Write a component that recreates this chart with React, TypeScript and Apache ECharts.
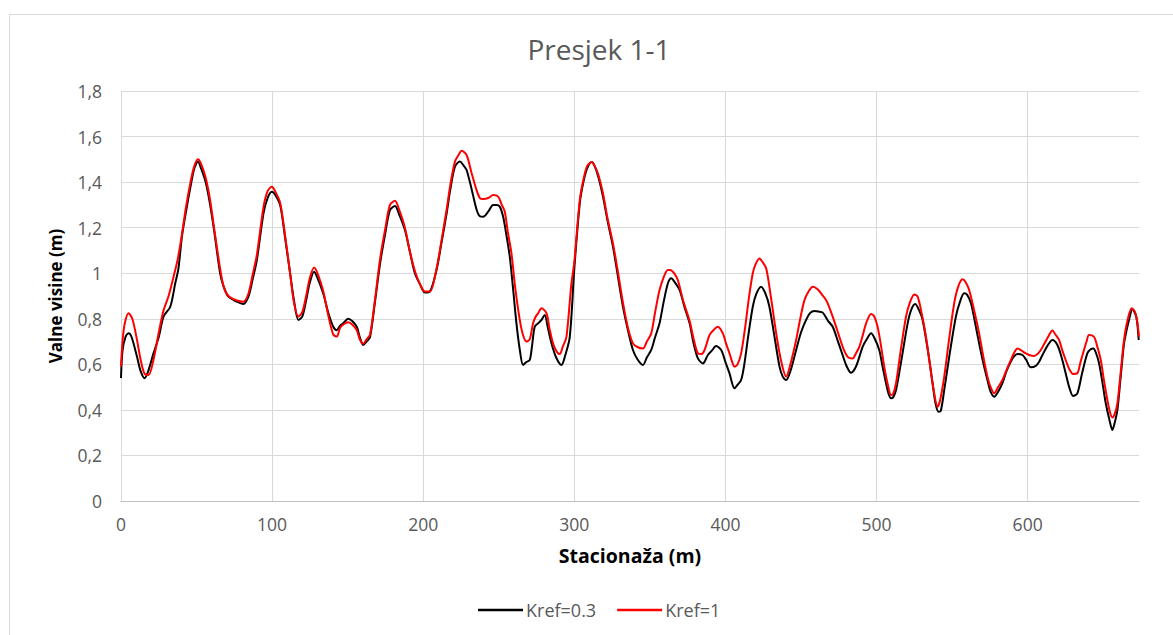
import React, { useEffect, useRef } from "react";
import * as echarts from "echarts";

const chartTitle = "Presjek 1-1";
const xAxisName = "Stacionaža (m)";
const yAxisName = "Valne visine (m)";
const seriesNames = ["Kref=0.3", "Kref=1"];

const stationBlack = [
  0, 1, 3, 5, 7, 10.6, 13, 15.6, 18, 21.5, 25, 28.2, 32.6, 35.9, 38, 40.3, 43, 46, 48.5, 50.9,
  53, 56, 59, 62, 65.6, 68, 71.1, 76.7, 81, 84.3, 87, 89.9, 94.3, 97, 99.8, 102, 105.3, 108.5,
  111.9, 114.5, 117.4, 120, 122.5, 125, 127.8, 130, 133.9, 137, 140.5, 142.8, 145, 147.1, 150.4,
  153, 156, 158, 160.3, 162.5, 164.8, 168, 171.4, 175, 178, 181.3, 184, 187.9, 191, 194.5, 198,
  201.1, 204.4, 208.8, 212, 215.5, 218, 221, 224.3, 226.5, 228.7, 232, 235.3, 237.5, 239.7, 243,
  246.3, 248.5, 250.7, 252.9, 255, 257.3, 259.5, 261.7, 264, 266.1, 268.3, 270.5, 272, 273.8,
  276, 278.3, 280.4, 282.5, 284.9, 288, 291.5, 294, 297, 300, 303.6, 306, 308.5, 311.5, 313.5,
  316, 319, 322, 325.6, 329, 332.2, 335.5, 338.8, 342, 345.4, 348, 350.9, 353.5, 356.4, 359,
  361.9, 364.2, 366.5, 369.7, 373, 376.3, 379, 381.8, 385.1, 388.4, 391, 393.9, 397.2, 400,
  402.7, 406, 408, 410.4, 412.5, 415, 418.1, 420.5, 423.6, 426.5, 429.1, 432.5, 435.8, 438,
  440.2, 443, 446.8, 450, 453.4, 456, 458.9, 461.5, 464.4, 468, 471, 474.5, 477.6, 480, 483.1,
  486.4, 490.8, 493.5, 496.4, 499, 501.8, 504, 506.3, 508, 509.6, 511, 512.9, 516.5, 520.6, 523,
  525.6, 528, 530.5, 534, 537.1, 539, 541, 542.5, 544.8, 548.5, 552.5, 555, 558, 560, 562.5, 565,
  567.9, 570.5, 573.4, 575.5, 577.9, 580.5, 583.3, 586, 588.9, 591, 593.3, 596.6, 599, 602.1,
  605.4, 607.5, 609.8, 613, 616.4, 619.7, 622.5, 625.2, 627.5, 630.1, 632.9, 636, 639.5, 641.5,
  643.5, 645.5, 647.3, 649.5, 651.7, 654, 656.1, 657.5, 659.4, 661.5, 663.8, 665.5, 667.1, 669.3,
  671.9, 673.5,
];
const heightBlack = [
  0.54, 0.66, 0.72, 0.736, 0.72, 0.633, 0.57, 0.539, 0.57, 0.648, 0.72, 0.81, 0.853, 0.956, 1.02,
  1.16, 1.27, 1.38, 1.46, 1.49, 1.46, 1.4, 1.3, 1.17, 1.0, 0.94, 0.897, 0.875, 0.865, 0.897, 0.97,
  1.058, 1.263, 1.33, 1.358, 1.345, 1.3, 1.16, 1.0, 0.88, 0.795, 0.81, 0.88, 0.96, 1.007, 0.98,
  0.91, 0.83, 0.765, 0.75, 0.77, 0.78, 0.8, 0.79, 0.765, 0.72, 0.685, 0.7, 0.72, 0.87, 1.04, 1.18,
  1.277, 1.295, 1.26, 1.19, 1.1, 1.0, 0.95, 0.915, 0.919, 1.014, 1.13, 1.263, 1.37, 1.468, 1.49,
  1.475, 1.453, 1.37, 1.28, 1.25, 1.248, 1.27, 1.3, 1.3, 1.292, 1.248, 1.17, 1.072, 0.93, 0.78,
  0.66, 0.597, 0.61, 0.619, 0.68, 0.765, 0.78, 0.795, 0.817, 0.76, 0.692, 0.63, 0.597, 0.64,
  0.721, 1.02, 1.307, 1.4, 1.46, 1.488, 1.47, 1.42, 1.336, 1.23, 1.116, 0.98, 0.853, 0.75, 0.663,
  0.62, 0.597, 0.63, 0.663, 0.72, 0.78, 0.87, 0.955, 0.978, 0.96, 0.926, 0.85, 0.78, 0.69, 0.626,
  0.604, 0.641, 0.66, 0.68, 0.663, 0.61, 0.56, 0.495, 0.51, 0.531, 0.6, 0.72, 0.853, 0.91, 0.941,
  0.91, 0.853, 0.72, 0.59, 0.545, 0.531, 0.57, 0.663, 0.74, 0.795, 0.825, 0.834, 0.832, 0.827,
  0.79, 0.765, 0.7, 0.64, 0.595, 0.563, 0.59, 0.677, 0.71, 0.736, 0.71, 0.663, 0.59, 0.517, 0.47,
  0.451, 0.455, 0.487, 0.62, 0.78, 0.84, 0.865, 0.84, 0.795, 0.66, 0.517, 0.43, 0.392, 0.395,
  0.487, 0.65, 0.809, 0.87, 0.912, 0.905, 0.868, 0.79, 0.692, 0.61, 0.531, 0.48, 0.458, 0.48,
  0.517, 0.57, 0.612, 0.635, 0.645, 0.641, 0.62, 0.587, 0.593, 0.61, 0.641, 0.68, 0.707, 0.685,
  0.63, 0.56, 0.5, 0.461, 0.473, 0.56, 0.648, 0.665, 0.67, 0.645, 0.604, 0.52, 0.429, 0.36, 0.312,
  0.34, 0.4, 0.54, 0.692, 0.75, 0.795, 0.842, 0.809, 0.707,
];

const stationRed = [
  0, 1, 2.5, 5, 7.5, 10.6, 13, 15.5, 18.2, 21.5, 25, 28.2, 31.5, 34.8, 37.5, 40.3, 43, 46, 48.5,
  50.9, 53, 56, 59, 62, 65.6, 68, 71.1, 76.7, 81, 84.3, 87, 89.9, 94.3, 97, 99.8, 102, 105.3,
  108.5, 111.9, 114.5, 117.4, 120, 122.5, 125, 127.8, 130, 133.9, 137, 140.5, 142.8, 145, 147.1,
  150.4, 153, 156, 158, 160.3, 162.5, 164.8, 168, 171.4, 175, 178, 181.3, 184, 187.9, 191, 194.5,
  198, 201.1, 204.4, 208.8, 212, 215.5, 218, 221, 223.5, 225.4, 228.7, 232, 235.3, 237.5, 239.7,
  243, 246.3, 249.6, 252, 254, 256, 258.4, 261, 263.9, 266, 268.3, 270.5, 272.7, 274.5, 276,
  278.3, 281.6, 283.5, 285.9, 288, 290.3, 292.5, 294.8, 298, 300, 303.6, 306, 308.5, 311.5, 313.5,
  316, 319, 322, 325.6, 329, 332.2, 335.5, 338.8, 342, 345.4, 348, 350.9, 353.5, 356.4, 359,
  361.9, 363.5, 366, 368.5, 372, 376.3, 379, 381.8, 384, 386.2, 389.5, 392, 395, 398.3, 400.5,
  402.7, 404.5, 406, 408, 410.4, 413, 415.5, 418.1, 420, 422.5, 424.5, 427, 430, 433.6, 437,
  440.2, 443, 446.8, 449.5, 452.3, 455, 457.8, 461, 464, 466.6, 469, 472, 475.4, 478, 480.9,
  484.2, 486.5, 488.6, 491, 493.1, 496.4, 498.5, 500.7, 503, 505.1, 507.5, 509.6, 511, 512.9, 516,
  519.5, 522, 525, 527.2, 530, 532.5, 534.9, 537.5, 540.4, 542, 544.8, 548, 551.4, 554, 556.9,
  559, 561.3, 564.5, 567.9, 570.5, 573.4, 575.5, 577.9, 580.5, 583.3, 586, 588.9, 591, 593.3, 596,
  598.8, 601.5, 604.3, 606.5, 608.7, 611, 613.5, 616.4, 618.5, 620.8, 623, 625.2, 627.5, 630.1,
  632.9, 635, 637.3, 639, 640.6, 643.9, 646, 648.4, 650.5, 652.8, 654.5, 656.1, 657.5, 659.4,
  661.5, 663.8, 666, 668.9, 671, 672.5, 673.7,
];
const heightRed = [
  0.59, 0.7, 0.78, 0.824, 0.8, 0.707, 0.62, 0.56, 0.553, 0.62, 0.74, 0.838, 0.9, 0.985, 1.06,
  1.17, 1.29, 1.4, 1.47, 1.5, 1.48, 1.42, 1.32, 1.18, 1.02, 0.94, 0.9, 0.88, 0.875, 0.91, 0.99,
  1.08, 1.29, 1.36, 1.38, 1.36, 1.31, 1.17, 1.0, 0.87, 0.81, 0.83, 0.9, 0.98, 1.025, 1.0, 0.92,
  0.82, 0.73, 0.722, 0.76, 0.775, 0.785, 0.775, 0.75, 0.71, 0.69, 0.71, 0.73, 0.88, 1.06, 1.2,
  1.3, 1.318, 1.28, 1.2, 1.1, 1.01, 0.95, 0.92, 0.92, 1.02, 1.14, 1.28, 1.39, 1.49, 1.52, 1.538,
  1.519, 1.44, 1.365, 1.33, 1.326, 1.33, 1.343, 1.336, 1.3, 1.27, 1.18, 1.087, 0.93, 0.795, 0.73,
  0.7, 0.71, 0.78, 0.81, 0.824, 0.846, 0.824, 0.76, 0.692, 0.66, 0.645, 0.68, 0.721, 0.95, 1.05,
  1.32, 1.41, 1.47, 1.488, 1.47, 1.43, 1.35, 1.24, 1.13, 1.0, 0.87, 0.76, 0.692, 0.675, 0.67, 0.7,
  0.736, 0.83, 0.926, 0.98, 1.014, 1.014, 1.0, 0.97, 0.88, 0.79, 0.71, 0.648, 0.645, 0.663, 0.729,
  0.75, 0.765, 0.736, 0.69, 0.648, 0.61, 0.59, 0.6, 0.648, 0.76, 0.89, 1.0, 1.04, 1.065, 1.05,
  1.021, 0.9, 0.736, 0.61, 0.546, 0.6, 0.707, 0.8, 0.882, 0.92, 0.941, 0.93, 0.905, 0.882, 0.846,
  0.79, 0.721, 0.67, 0.633, 0.626, 0.65, 0.677, 0.73, 0.78, 0.821, 0.81, 0.765, 0.68, 0.59, 0.51,
  0.465, 0.47, 0.517, 0.66, 0.809, 0.87, 0.907, 0.897, 0.82, 0.73, 0.619, 0.5, 0.414, 0.44, 0.546,
  0.71, 0.868, 0.94, 0.973, 0.96, 0.926, 0.84, 0.736, 0.64, 0.546, 0.5, 0.473, 0.5, 0.531, 0.575,
  0.619, 0.65, 0.67, 0.66, 0.648, 0.64, 0.637, 0.645, 0.663, 0.69, 0.72, 0.748, 0.73, 0.707, 0.66,
  0.619, 0.58, 0.558, 0.561, 0.61, 0.663, 0.7, 0.729, 0.721, 0.68, 0.619, 0.53, 0.443, 0.39, 0.367,
  0.38, 0.429, 0.56, 0.707, 0.79, 0.846, 0.83, 0.79, 0.721,
];

const xMin = 0;
const xMax = 673.7;
const xInterval = 100;
const yMin = 0;
const yMax = 1.8;
const yInterval = 0.2;

const FONT = "'Open Sans', 'Liberation Sans', sans-serif";
const GREY = "#595959";

export default function App() {
  const ref = useRef<HTMLDivElement>(null);
  useEffect(() => {
    if (!ref.current) return;
    const chart = echarts.init(ref.current, undefined, { renderer: "svg" });
    const blackData = stationBlack.map((x, i) => [x, heightBlack[i]]);
    const redData = stationRed.map((x, i) => [x, heightRed[i]]);
    chart.setOption({
      animation: false,
      backgroundColor: "#ffffff",
      textStyle: { fontFamily: FONT },
      graphic: [
        {
          type: "rect",
          shape: { x: 9.5, y: 14.5, width: 1200, height: 700 },
          style: { fill: "none", stroke: "#d9d9d9", lineWidth: 1 },
          silent: true,
          z: -10,
        },
      ],
      title: {
        text: chartTitle,
        left: 594,
        top: 30,
        textAlign: "center",
        textStyle: { fontFamily: FONT, fontSize: 28, fontWeight: "normal", color: GREY },
      },
      legend: {
        left: 473,
        top: 596,
        icon: "rect",
        itemWidth: 45,
        itemHeight: 2.5,
        itemGap: 21,
        textStyle: { fontFamily: FONT, fontSize: 18, color: GREY, padding: [0, 0, 0, -2] },
        data: seriesNames,
      },
      grid: { left: 121, top: 91, right: 34, bottom: 134, containLabel: false },
      xAxis: {
        type: "value",
        min: xMin,
        max: xMax,
        interval: xInterval,
        name: xAxisName,
        nameLocation: "middle",
        nameGap: 44,
        nameTextStyle: { fontFamily: FONT, fontSize: 19.5, fontWeight: "bold", color: "#000000" },
        axisLine: { show: true, lineStyle: { color: "#bfbfbf", width: 1 } },
        axisTick: { show: false },
        axisLabel: {
          fontFamily: FONT,
          fontSize: 17.5,
          color: GREY,
          margin: 14,
          showMaxLabel: false,
          formatter: (v: number) => (v % 100 === 0 ? String(v) : ""),
        },
        splitLine: { show: true, showMaxLine: false, lineStyle: { color: "#d9d9d9", width: 1 } },
      },
      yAxis: {
        type: "value",
        min: yMin,
        max: yMax,
        interval: yInterval,
        name: yAxisName,
        nameLocation: "middle",
        nameGap: 57,
        nameRotate: 90,
        nameTextStyle: { fontFamily: FONT, fontSize: 17, fontWeight: "bold", color: "#000000" },
        axisLine: { show: false },
        axisTick: { show: false },
        axisLabel: {
          fontFamily: FONT,
          fontSize: 17.5,
          color: GREY,
          margin: 19,
          formatter: (v: number) => String(Number(v.toFixed(1))).replace(".", ","),
        },
        splitLine: { show: true, lineStyle: { color: "#d9d9d9", width: 1 } },
      },
      series: [
        {
          name: seriesNames[0],
          type: "line",
          data: blackData,
          symbol: "none",
          smooth: 0.3,
          lineStyle: { color: "#000000", width: 2 },
          itemStyle: { color: "#000000" },
        },
        {
          name: seriesNames[1],
          type: "line",
          data: redData,
          symbol: "none",
          smooth: 0.3,
          lineStyle: { color: "#ff0000", width: 2 },
          itemStyle: { color: "#ff0000" },
        },
      ],
    });
    return () => chart.dispose();
  }, []);
  return (
    <div
      ref={ref}
      style={{ position: "fixed", left: 0, top: 0, width: 1173, height: 635, background: "#fff" }}
    />
  );
}
